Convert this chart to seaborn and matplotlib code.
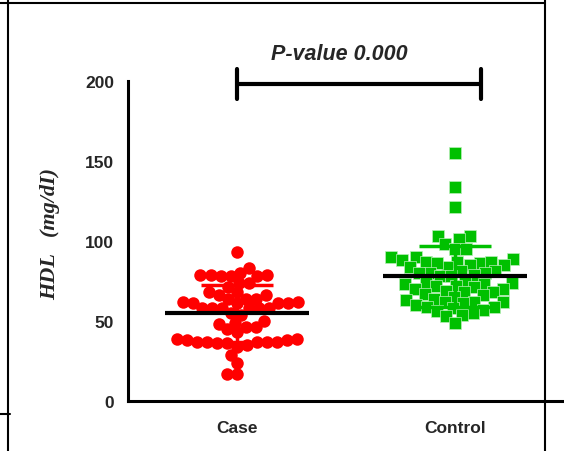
import numpy as np
import pandas as pd
import seaborn as sns
import matplotlib
matplotlib.use('Agg')
from matplotlib import pyplot as plt
from matplotlib.lines import Line2D

# HDL values (mg/dl)
groups = ['Case', 'Control']
case_hdl = [93, 83,
            80, 79, 78, 78, 78, 79, 79,
            74, 74,
            71, 68, 66, 64, 62, 61, 61, 61, 61, 62, 64, 64, 66, 68,
            58, 58, 58, 58, 58, 58,
            55, 54, 49, 48, 50, 45, 46, 46,
            43, 39, 37, 37, 37, 36, 35, 34, 36, 37, 37, 38, 38, 39,
            29, 24, 17, 17]
control_hdl = [155, 134, 121, 103, 103, 101, 98, 95, 95,
               90, 90, 89, 87, 88, 87, 86, 85, 84, 84, 85, 86, 87,
               81, 81, 80, 80, 80, 79, 78, 78,
               75, 74, 74, 73, 73, 72, 72, 71, 70, 70, 69, 68, 68,
               67, 66, 65, 64, 63, 62, 62, 62, 61, 60,
               59, 59, 58, 57, 56, 55, 54, 53, 49]
y_ticks = [0, 50, 100, 150, 200]
p_text = 'P-value 0.000'
colors = ['#FF0000', '#00C000']

df = pd.DataFrame({'group': ['Case'] * len(case_hdl) + ['Control'] * len(control_hdl),
                   'HDL': case_hdl + control_hdl})

sns.set_style('white')
plt.rcParams['font.family'] = ['Liberation Sans', 'DejaVu Sans']

fig = plt.figure(figsize=(5.64, 4.52), dpi=100)
ax = fig.add_axes([0.227, 0.1106, 0.773, 0.708])

# swarm laid out with a smaller marker so the points overlap like the original
sns.swarmplot(data=df[df.group == 'Case'], x='group', y='HDL', order=groups,
              color=colors[0], marker='o', size=7, linewidth=0, ax=ax, zorder=2)
sns.swarmplot(data=df[df.group == 'Control'], x='group', y='HDL', order=groups,
              color=colors[1], marker='s', size=7, linewidth=0.5, edgecolor='#b8eeb8',
              ax=ax, zorder=2)
ax.set_xlim(-0.5, 1.5)
ax.set_ylim(0, 200)
fig.canvas.draw()
for coll in ax.collections:
    if 'draw' in coll.__dict__:
        del coll.draw
    coll.set_sizes([81])

# mean with SD
for i, vals in enumerate([case_hdl, control_hdl]):
    m, sd = np.mean(vals), np.std(vals, ddof=1)
    ax.errorbar(i, m, yerr=sd, color=colors[i], capsize=26, capthick=2.5,
                elinewidth=2.5, zorder=3)
    ax.hlines(m, i - 0.33, i + 0.33, color='black', lw=3, zorder=4)

# significance bracket
ax.plot([0, 1.12], [198, 198], color='black', lw=3, clip_on=False)
ax.plot([0, 0], [188.5, 207.5], color='black', lw=3, clip_on=False)
ax.plot([1.12, 1.12], [188.5, 207.5], color='black', lw=3, clip_on=False)
ax.text(0.47, 213.5, p_text, ha='center', va='baseline', fontsize=15.5,
        fontweight='bold', style='italic', clip_on=False)

ax.set_xlim(-0.5, 1.5)
ax.set_ylim(0, 200)
ax.set_xticks([0, 1])
ax.set_xticklabels(groups, fontsize=12.5, fontweight='bold')
ax.set_yticks(y_ticks)
ax.set_yticklabels([str(t) for t in y_ticks], fontsize=12.5, fontweight='bold')
ax.set_xlabel('')
ax.set_ylabel('HDL   (mg/dI)', family=['Liberation Serif', 'DejaVu Serif'],
              fontsize=16, fontweight='bold', style='italic')
ax.yaxis.set_label_coords(-0.156, 0.525)

for side in ['top', 'right']:
    ax.spines[side].set_visible(False)
for side in ['left', 'bottom']:
    ax.spines[side].set_linewidth(2.2)
    ax.spines[side].set_color('black')
ax.tick_params(axis='both', width=2.2, length=5, direction='out', color='black')
ax.tick_params(axis='x', pad=9)
ax.tick_params(axis='y', pad=5)

# pieces of the surrounding frame
frame = [([0, 0.966], [0.991, 0.991]),
         ([0.0142, 0.0142], [0, 1]),
         ([0.966, 0.966], [0, 1]),
         ([0, 0.018], [0.082, 0.082])]
for xs, ys in frame:
    fig.add_artist(Line2D(xs, ys, transform=fig.transFigure, color='black', lw=1.5))

plt.savefig('out.png', dpi=100)
